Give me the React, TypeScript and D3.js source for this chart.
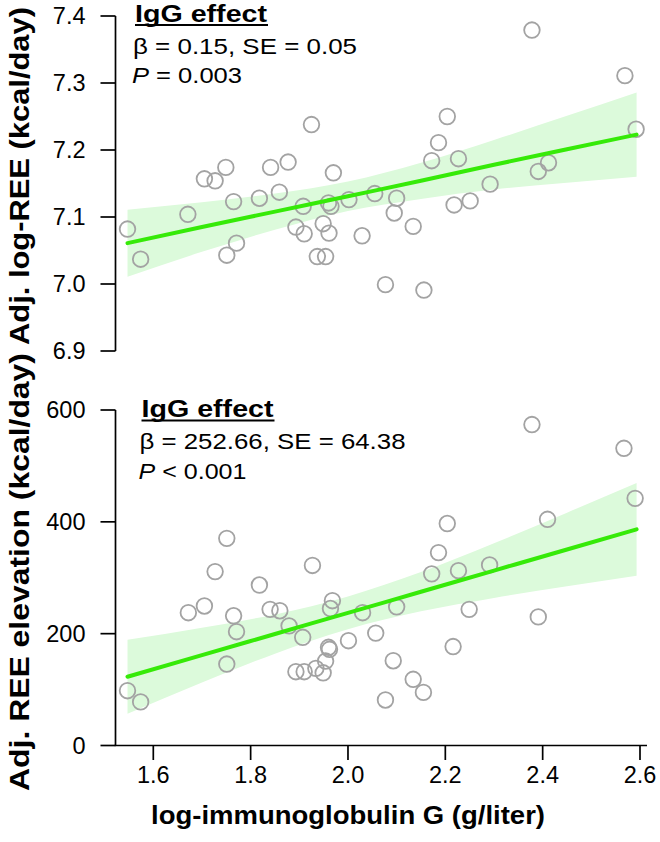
import React from "react";
import * as d3 from "d3";

// ---- data ----
const igg = [
  1.547, 1.574, 1.671, 1.705, 1.727, 1.749, 1.751, 1.765, 1.771, 1.818, 1.841,
  1.859, 1.877, 1.893, 1.908, 1.91, 1.925, 1.937, 1.949, 1.954, 1.96, 1.965,
  1.961, 1.97, 2.002, 2.029, 2.055, 2.077, 2.095, 2.1, 2.134, 2.156, 2.172,
  2.186, 2.204, 2.218, 2.227, 2.251, 2.292, 2.378, 2.391, 2.412, 2.569, 2.592,
];
const logREE = [
  7.082, 7.037, 7.104, 7.157, 7.154, 7.174, 7.043, 7.123, 7.061, 7.128, 7.174,
  7.137, 7.182, 7.085, 7.116, 7.075, 7.238, 7.041, 7.09, 7.041, 7.121, 7.116,
  7.076, 7.166, 7.126, 7.072, 7.135, 6.999, 7.106, 7.128, 7.086, 6.991, 7.184,
  7.211, 7.25, 7.118, 7.187, 7.124, 7.149, 7.379, 7.168, 7.181, 7.311, 7.231,
];
const iggB = [
  1.547, 1.574, 1.672, 1.705, 1.727, 1.751, 1.751, 1.765, 1.771, 1.818, 1.84,
  1.86, 1.879, 1.893, 1.907, 1.91, 1.927, 1.934, 1.949, 1.954, 1.96, 1.962,
  1.964, 1.968, 2.001, 2.03, 2.057, 2.077, 2.093, 2.1, 2.134, 2.155, 2.172,
  2.186, 2.204, 2.216, 2.227, 2.249, 2.291, 2.378, 2.391, 2.41, 2.567, 2.59,
];
const reeElev = [
  98, 78, 237.5, 249.5, 311, 370.5, 145.7, 232, 203.5, 287, 243.5, 241, 214,
  132, 193.5, 132, 322, 138, 130, 151, 175.6, 172, 245, 259, 187.4, 237.5, 201,
  81.4, 151.6, 248, 118.4, 95, 307, 345, 397, 177, 312.6, 243.5, 323, 574, 230,
  404.5, 531.5, 442,
];

// regression fit and confidence band (read at sample x positions)
const fitX = [1.547, 1.7, 1.85, 2.0, 2.15, 2.3, 2.45, 2.593];
const topFit = [7.061, 7.085, 7.108, 7.131, 7.154, 7.178, 7.201, 7.223];
const topLo = [7.011, 7.048, 7.081, 7.109, 7.127, 7.141, 7.151, 7.16];
const topHi = [7.111, 7.122, 7.135, 7.153, 7.181, 7.215, 7.251, 7.286];
const botFit = [123, 161.6, 199.4, 237.2, 275, 312.8, 350.6, 386.6];
const botLo = [57, 112.7, 164.3, 207.9, 239.9, 263.9, 284.8, 303.8];
const botHi = [189, 210.5, 234.5, 266.5, 310.1, 361.7, 416.4, 469.4];

const xTicks = [1.6, 1.8, 2.0, 2.2, 2.4, 2.6];
const yTopTicks = [6.9, 7.0, 7.1, 7.2, 7.3, 7.4];
const yBotTicks = [0, 200, 400, 600];

const FONT = "'Liberation Sans', Arial, Helvetica, sans-serif";
const GREEN = "#36ea08";
const BAND = "#dcfadb";
const PT = "#a3a3a3";

export default function App() {
  const axisX = 115.5;
  const x = d3.scaleLinear().domain([1.6, 2.6]).range([153.3, 640]);
  const yT = d3.scaleLinear().domain([6.9, 7.4]).range([351, 16]);
  const yB = d3.scaleLinear().domain([0, 600]).range([745.5, 410]);

  const band = (lo: number[], hi: number[], y: d3.ScaleLinear<number, number>) =>
    d3
      .area<number>()
      .x((_, i) => x(fitX[i]))
      .y0((_, i) => y(lo[i]))
      .y1((_, i) => y(hi[i]))
      .curve(d3.curveMonotoneX)(fitX) || "";
  const line = (f: number[], y: d3.ScaleLinear<number, number>) =>
    d3
      .line<number>()
      .x((_, i) => x(fitX[i]))
      .y((_, i) => y(f[i]))
      .curve(d3.curveMonotoneX)(fitX) || "";

  const tickFont = 23.5;

  const yAxis = (
    y: d3.ScaleLinear<number, number>,
    ticks: number[],
    fmt: (v: number) => string
  ) => (
    <g>
      <line x1={axisX} x2={axisX} y1={y(ticks[ticks.length - 1])} y2={y(ticks[0])} stroke="#000" strokeWidth={1.7} />
      {ticks.map((t) => (
        <g key={t}>
          <line x1={axisX - 15} x2={axisX} y1={y(t)} y2={y(t)} stroke="#000" strokeWidth={1.7} />
          <text x={85.5} y={y(t)} dy="0.36em" textAnchor="end" fontSize={tickFont} fontFamily={FONT}>
            {fmt(t)}
          </text>
        </g>
      ))}
    </g>
  );

  const pts = (xs: number[], ys: number[], y: d3.ScaleLinear<number, number>) =>
    xs.map((v, i) => (
      <circle key={i} cx={x(v)} cy={y(ys[i])} r={7.8} fill="none" stroke={PT} strokeWidth={1.8} />
    ));

  const annot = (
    x0: number,
    yb: number,
    beta: string,
    betaLen: number,
    p: string,
    pLen: number
  ) => (
    <g fontFamily={FONT}>
      <text x={x0} y={yb} fontSize={23} fontWeight="bold" textLength={132} lengthAdjust="spacingAndGlyphs">
        IgG effect
      </text>
      <line x1={x0} x2={x0 + 133} y1={yb + 3.4} y2={yb + 3.4} stroke="#000" strokeWidth={2} />
      <text x={x0 - 2} y={yb + 32} fontSize={22.5} textLength={betaLen} lengthAdjust="spacingAndGlyphs">
        {beta}
      </text>
      <text x={x0 - 3} y={yb + 61.5} fontSize={22.5} textLength={pLen} lengthAdjust="spacingAndGlyphs">
        <tspan fontStyle="italic">P</tspan>
        {p}
      </text>
    </g>
  );

  return (
    <svg width={660} height={842} style={{ position: "absolute", left: 0, top: 0 }}>
      <rect width={660} height={842} fill="#fff" />
      {/* top panel */}
      <path d={band(topLo, topHi, yT)} fill={BAND} />
      {pts(igg, logREE, yT)}
      <path d={line(topFit, yT)} fill="none" stroke={GREEN} strokeWidth={4} strokeLinecap="round" />
      {yAxis(yT, yTopTicks, (v) => v.toFixed(1))}
      {annot(135, 21.5, "β = 0.15, SE = 0.05", 224, " = 0.003", 110)}
      <text
        transform={`translate(29,176) rotate(-90)`}
        textAnchor="middle"
        fontSize={27}
        fontWeight="bold"
        fontFamily={FONT}
        textLength={338}
        lengthAdjust="spacingAndGlyphs"
      >
        Adj. log-REE (kcal/day)
      </text>

      {/* bottom panel */}
      <path d={band(botLo, botHi, yB)} fill={BAND} />
      {pts(iggB, reeElev, yB)}
      <path d={line(botFit, yB)} fill="none" stroke={GREEN} strokeWidth={4} strokeLinecap="round" />
      {yAxis(yB, yBotTicks, (v) => String(v))}
      {annot(141.5, 417, "β = 252.66, SE = 64.38", 266, " < 0.001", 108)}
      <text
        transform={`translate(29,572) rotate(-90)`}
        textAnchor="middle"
        fontSize={27}
        fontWeight="bold"
        fontFamily={FONT}
        textLength={438}
        lengthAdjust="spacingAndGlyphs"
      >
        Adj. REE elevation (kcal/day)
      </text>

      {/* x axis */}
      <line x1={axisX - 0.8} x2={647} y1={745.5} y2={745.5} stroke="#000" strokeWidth={1.7} />
      {xTicks.map((t) => (
        <g key={t}>
          <line x1={x(t)} x2={x(t)} y1={745.5} y2={760} stroke="#000" strokeWidth={1.7} />
          <text x={x(t)} y={783} textAnchor="middle" fontSize={tickFont} fontFamily={FONT}>
            {t.toFixed(1)}
          </text>
        </g>
      ))}
      <text
        x={348}
        y={824}
        textAnchor="middle"
        fontSize={25}
        fontWeight="bold"
        fontFamily={FONT}
        textLength={394}
        lengthAdjust="spacingAndGlyphs"
      >
        log-immunoglobulin G (g/liter)
      </text>
    </svg>
  );
}
